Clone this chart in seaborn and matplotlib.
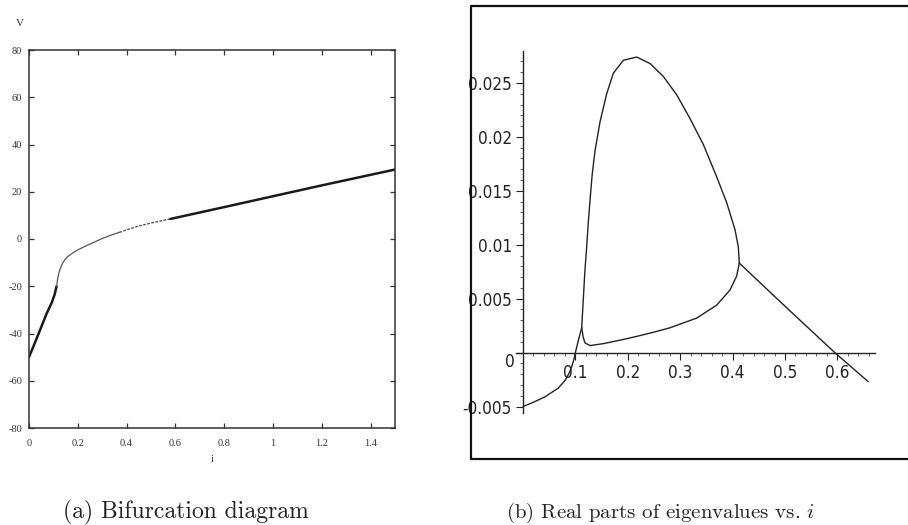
import matplotlib
matplotlib.use("Agg")
import matplotlib.pyplot as plt
import seaborn as sns
from matplotlib import font_manager
from matplotlib.lines import Line2D
from matplotlib.ticker import MultipleLocator, FixedLocator

sns.set_style("white")
plt.rcParams["axes.unicode_minus"] = False
plt.rcParams["mathtext.fontset"] = "cm"

# ---------------- Panel (a): bifurcation diagram, V vs i ----------------
i_stable_low = [0.0, 0.02, 0.045, 0.0725, 0.093, 0.105, 0.113]
V_stable_low = [-50.0, -45.0, -38.6, -31.5, -27.0, -23.5, -20.0]
i_unstable = [0.113, 0.118, 0.124, 0.13, 0.138, 0.147, 0.158, 0.17, 0.185, 0.2, 0.22,
              0.24, 0.27, 0.3, 0.335, 0.37]
V_unstable = [-20.0, -16.5, -13.8, -12.0, -10.2, -8.8, -7.5, -6.6, -5.5, -4.6, -3.6,
              -2.6, -1.2, 0.2, 1.6, 2.8]
i_cycle = [0.37, 0.41, 0.45, 0.51, 0.58]
V_cycle = [2.8, 4.2, 5.5, 7.0, 8.5]
i_stable_high = [0.58, 0.8, 1.0, 1.2, 1.5]
V_stable_high = [8.5, 13.5, 18.1, 22.7, 29.4]
xticks_a = [0, 0.2, 0.4, 0.6, 0.8, 1, 1.2, 1.4]
xticklabels_a = ["0", "0.2", "0.4", "0.6", "0.8", "1", "1.2", "1.4"]
yticks_a = [-80, -60, -40, -20, 0, 20, 40, 60, 80]

# ---------------- Panel (b): real parts of eigenvalues vs i ----------------
i_left = [0.0, 0.02, 0.042, 0.067, 0.08, 0.088, 0.093, 0.0973, 0.1, 0.106, 0.112]
re_left = [-0.005, -0.0046, -0.0041, -0.0033, -0.0026, -0.0019, -0.0013, -0.0006, 0.0, 0.0012, 0.0023]
i_upper = [0.112, 0.115, 0.118, 0.1215, 0.1245, 0.128, 0.132, 0.1374, 0.147, 0.1597, 0.1724,
           0.1915, 0.217, 0.2424, 0.2678, 0.2933, 0.3187, 0.3441, 0.3696, 0.3887, 0.4046,
           0.4109, 0.4128]
re_upper = [0.0023, 0.0049, 0.0075, 0.0098, 0.0120, 0.0142, 0.0165, 0.0187, 0.0214, 0.0240,
            0.0259, 0.0271, 0.0274, 0.0268, 0.0256, 0.0239, 0.0217, 0.0193, 0.0163, 0.0139,
            0.0114, 0.0098, 0.0083]
i_lower = [0.112, 0.115, 0.1183, 0.1279, 0.1533, 0.185, 0.217, 0.25, 0.2805, 0.3315,
           0.3696, 0.395, 0.4078, 0.4128]
re_lower = [0.0023, 0.0014, 0.0009, 0.00065, 0.00083, 0.00115, 0.0015, 0.0019, 0.0023, 0.0032,
            0.0044, 0.0058, 0.0071, 0.0083]
i_right = [0.4128, 0.5, 0.595, 0.659]
re_right = [0.0083, 0.0043, 0.0, -0.0027]
xticks_b = [0.1, 0.2, 0.3, 0.4, 0.5, 0.6]
xticklabels_b = ["0.1", "0.2", "0.3", "0.4", "0.5", "0.6"]
yticks_b = [-0.005, 0.0, 0.005, 0.01, 0.015, 0.02, 0.025]
yticklabels_b = ["-0.005", "", "0.005", "0.01", "0.015", "0.02", "0.025"]

# pick a narrow sans face for panel (b) tick labels if one is installed
_fonts = font_manager.fontManager.ttflist
_names = {f.name for f in _fonts}
if "Liberation Sans Narrow" in _names:
    sans_kw = dict(fontfamily=["Liberation Sans Narrow", "DejaVu Sans"], fontsize=13.5)
elif any(f.name == "DejaVu Sans" and "Condensed" in f.fname and "Bold" not in f.fname
         and "Oblique" not in f.fname for f in _fonts):
    sans_kw = dict(fontfamily=["DejaVu Sans"], fontstretch="condensed", fontsize=12.3)
else:
    sans_kw = dict(fontfamily=["Liberation Sans", "DejaVu Sans"], fontsize=12.5)

W, H = 908, 525
fig = plt.figure(figsize=(W / 100, H / 100), dpi=100)

# ---------- (a) ----------
axa = fig.add_axes([29 / W, 1 - 428 / H, 366 / W, 378 / H])
sns.lineplot(x=i_stable_low, y=V_stable_low, ax=axa, color="#1a1a1a", lw=1.8, sort=False, estimator=None)
sns.lineplot(x=i_unstable, y=V_unstable, ax=axa, color="#555555", lw=0.9, sort=False, estimator=None)
sns.lineplot(x=i_cycle, y=V_cycle, ax=axa, color="#555555", lw=1.0, sort=False, estimator=None,
             linestyle=(0, (2, 1)))
sns.lineplot(x=i_stable_high, y=V_stable_high, ax=axa, color="#1a1a1a", lw=1.8, sort=False, estimator=None)
axa.set_xlim(0, 1.5)
axa.set_ylim(-80, 80)
axa.set_xticks(xticks_a)
axa.set_xticklabels(xticklabels_a)
axa.set_yticks(yticks_a)
axa.set_yticklabels([str(v) for v in yticks_a])
serif = ["Liberation Serif", "DejaVu Serif"]
for lab in axa.get_xticklabels() + axa.get_yticklabels():
    lab.set_fontfamily(serif)
    lab.set_fontsize(7.5)
    lab.set_color("#333333")
axa.tick_params(direction="in", length=3.5, width=0.9, color="#333333", top=True, right=True,
                bottom=True, left=True)
axa.tick_params(axis="x", pad=8)
axa.tick_params(axis="y", pad=5)
for sp in axa.spines.values():
    sp.set_visible(True)
    sp.set_linewidth(1.1)
    sp.set_color("#333333")
axa.set_xlabel("i", fontfamily=serif, fontsize=8, color="#333333", labelpad=5)
axa.set_ylabel("")
axa.text(-0.025, 1.069, "V", transform=axa.transAxes, fontfamily=serif, fontsize=8,
         color="#333333", ha="center", va="center")
axa.grid(False)

# ---------- (b) ----------
axb = fig.add_axes([516 / W, 1 - 413 / H, 359 / W, 362 / H])
for xs, ys in [(i_left, re_left), (i_upper, re_upper), (i_lower, re_lower), (i_right, re_right)]:
    sns.lineplot(x=xs, y=ys, ax=axb, color="#222222", lw=1.0, sort=False, estimator=None)
axb.set_xlim(-0.0134, 0.6718)
axb.set_ylim(-0.0056, 0.02796)
axb.spines["left"].set_position(("data", 0))
axb.spines["bottom"].set_position(("data", 0))
axb.spines["right"].set_visible(False)
axb.spines["top"].set_visible(False)
for k in ("left", "bottom"):
    axb.spines[k].set_visible(True)
    axb.spines[k].set_linewidth(1.0)
    axb.spines[k].set_color("#222222")
axb.xaxis.set_major_locator(FixedLocator(xticks_b))
axb.set_xticklabels(xticklabels_b)
axb.xaxis.set_minor_locator(MultipleLocator(0.02))
axb.yaxis.set_major_locator(FixedLocator(yticks_b))
axb.set_yticklabels(yticklabels_b)
axb.yaxis.set_minor_locator(MultipleLocator(0.001))
for lab in axb.get_xticklabels() + axb.get_yticklabels():
    lab.set_fontfamily(sans_kw["fontfamily"])
    lab.set_fontsize(sans_kw["fontsize"])
    if "fontstretch" in sans_kw:
        lab.set_fontstretch(sans_kw["fontstretch"])
    lab.set_color("#222222")
axb.tick_params(which="major", direction="out", length=5, width=0.8, color="#222222",
                left=True, bottom=True)
axb.tick_params(which="minor", direction="out", length=2.5, width=0.6, color="#444444",
                left=True, bottom=True)
axb.tick_params(axis="x", which="major", pad=3)
axb.tick_params(axis="y", which="major", pad=3)
axb.annotate("0", xy=(0, 0), xycoords="data", xytext=(-6, -7), textcoords="offset points",
             ha="right", va="center", color="#222222", **sans_kw)
axb.grid(False)

# outer frame of panel (b), running off the right edge
fx0, fy0, fy1 = 471 / W, 1 - 459 / H, 1 - 6 / H
for xs, ys in [([fx0, fx0], [fy0, fy1]), ([fx0, 1.01], [fy1, fy1]), ([fx0, 1.01], [fy0, fy0])]:
    fig.add_artist(Line2D(xs, ys, transform=fig.transFigure, color="#111111", lw=1.6))

# captions
cap = dict(fontfamily="cmr10", color="#222222", va="baseline", ha="center")
fig.text(186 / W, 1 - 518 / H, "(a) Bifurcation diagram", fontsize=17, **cap)
fig.text(660 / W, 1 - 518 / H, r"(b) Real parts of eigenvalues vs. $i$", fontsize=15, **cap)

fig.savefig("out.png", dpi=100, facecolor="white")
